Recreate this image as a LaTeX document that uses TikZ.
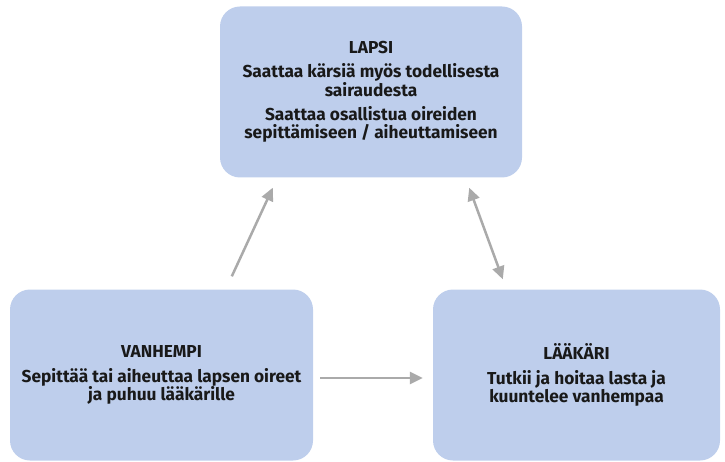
\documentclass[tikz,border=0pt]{standalone}
\usepackage{fontspec}
\setmainfont{Fira Sans}
\usepackage{xcolor}
\usepackage{tikz}
\usetikzlibrary{calc, arrows.meta, positioning}
\definecolor{boxblue}{RGB}{190,206,236}
\definecolor{arrowgray}{RGB}{170,170,170}

\begin{document}
\begin{tikzpicture}[
    x=1pt, y=-1pt,
    party/.style={rectangle, fill=boxblue, rounded corners=20pt, minimum height=171pt, align=center, font=\fontsize{17.3}{18.3}\selectfont\bfseries, text=black!90},
    arrow/.style={draw=arrowgray, line width=2.5pt, -{Triangle[length=13pt, width=12pt]}},
    twoway/.style={draw=arrowgray, line width=2.5pt, {Triangle[length=13pt, width=12pt]}-{Triangle[length=13pt, width=12pt]}}
]
    \useasboundingbox (0,0) rectangle (725,462);
    \node [party, minimum width=302pt] (lapsi) at (371,92) {LAPSI\\[6pt] Saattaa kärsiä myös todellisesta\\ sairaudesta\\[6pt] Saattaa osallistua oireiden\\ sepittämiseen / aiheuttamiseen};
    \node [party, minimum width=303pt] (vanhempi) at (161.5,375) {VANHEMPI\\[6pt] Sepittää tai aiheuttaa lapsen oireet\\ ja puhuu lääkärille};
    \node [party, minimum width=287pt] (laakari) at (576.5,375) {LÄÄKÄRI\\[6pt] Tutkii ja hoitaa lasta ja\\ kuuntelee vanhempaa};

    \draw [arrow] ($(vanhempi.north west)+(222,-13)$) -- ($(lapsi.south west)+(53,10)$);
    \draw [twoway] ($(lapsi.south east)+(-53,10)$) -- ($(laakari.north west)+(70,-10)$);
    \draw [arrow] ($(vanhempi.east)+(7,3)$) -- ($(laakari.west)+(-10,3)$);
\end{tikzpicture}
\end{document}
